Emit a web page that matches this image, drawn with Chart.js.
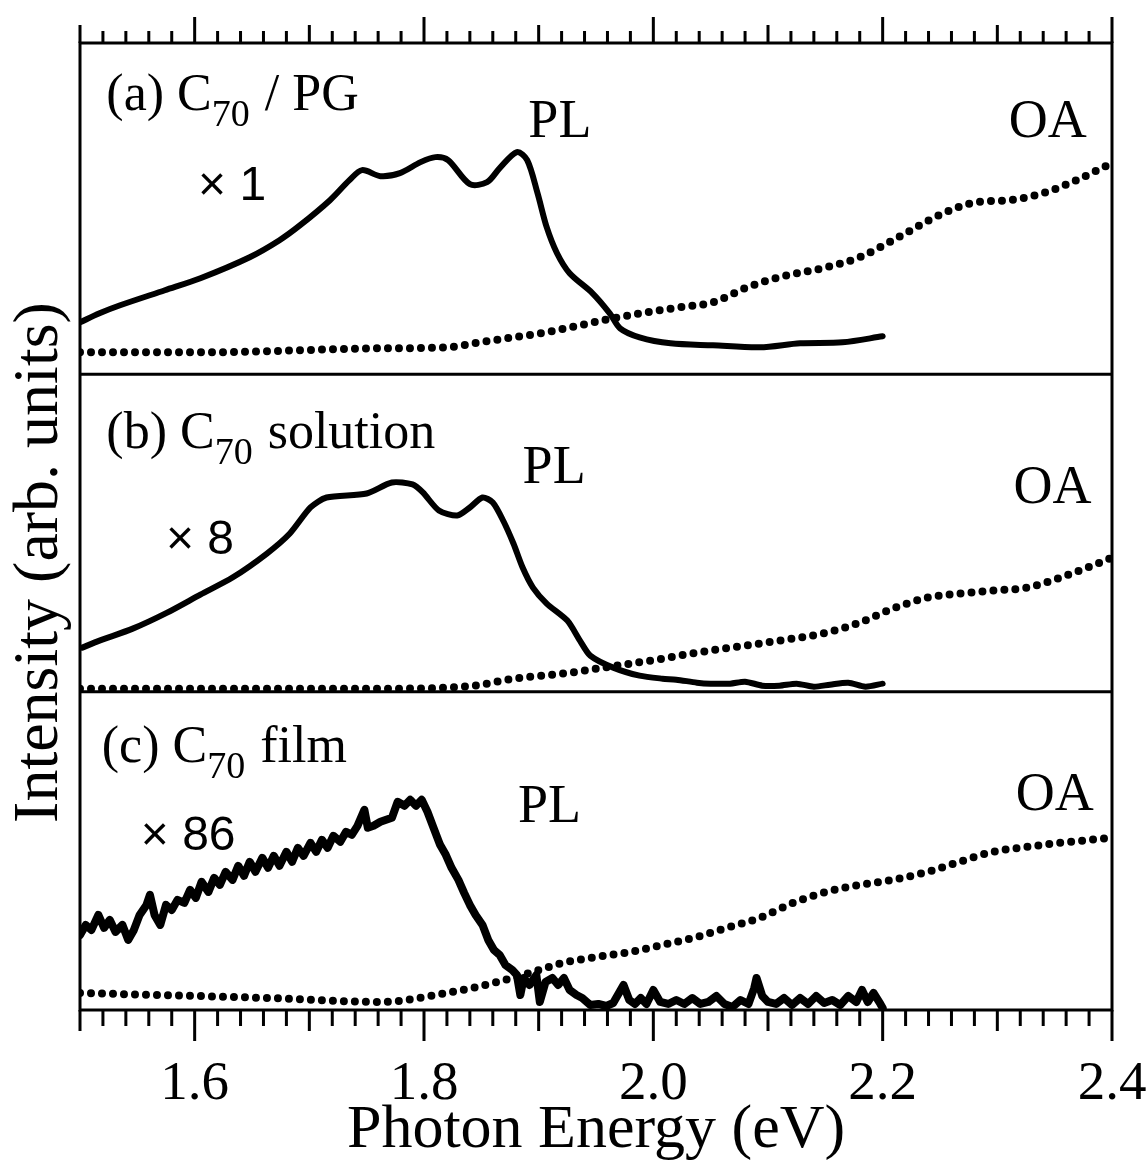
<!DOCTYPE html>
<html>
<head>
<meta charset="utf-8">
<title>C70 PL / OA spectra</title>
<script src="https://cdn.jsdelivr.net/npm/chart.js@4.4.1/dist/chart.umd.min.js"></script>
<style>
  html, body { margin: 0; padding: 0; background: #fff; }
  #chart { display: block; }
</style>
</head>
<body>
<canvas id="chart" width="1147" height="1162"></canvas>
<script>
// photon energy in eV, intensity in arbitrary units (per panel)

// (a) C70 / PG
const plEnergyA = [1.500, 1.517, 1.535, 1.574, 1.605, 1.648, 1.674, 1.692, 1.718, 1.735, 1.746, 1.762, 1.779, 1.797, 1.810, 1.821, 1.840, 1.855, 1.866, 1.881, 1.890, 1.899, 1.907, 1.916, 1.927, 1.947, 1.962, 1.971, 1.988, 2.015, 2.052, 2.093, 2.128, 2.165, 2.200];
const plA = [52, 61, 69, 84, 96, 117, 134, 149, 174, 194, 204, 198, 201, 212, 217, 214, 190, 192, 206, 222, 214, 181, 147, 121, 101, 81, 61, 46, 37, 31, 29, 27, 31, 32, 38];
const oaEnergyA = [1.500, 1.605, 1.762, 1.820, 1.849, 1.878, 1.907, 1.936, 1.965, 1.994, 2.023, 2.052, 2.082, 2.110, 2.151, 2.180, 2.209, 2.253, 2.282, 2.311, 2.340, 2.369, 2.400];
const oaA = [22, 22, 26, 27, 32, 37, 42, 49, 56, 62, 67, 72, 87, 97, 107, 117, 134, 161, 172, 174, 181, 194, 211];

// (b) C70 solution
const plEnergyB = [1.502, 1.517, 1.546, 1.576, 1.605, 1.633, 1.663, 1.683, 1.701, 1.715, 1.750, 1.772, 1.790, 1.799, 1.813, 1.829, 1.840, 1.851, 1.860, 1.869, 1.878, 1.886, 1.895, 1.907, 1.925, 1.936, 1.945, 1.965, 1.988, 2.008, 2.020, 2.038, 2.050, 2.067, 2.080, 2.095, 2.110, 2.125, 2.140, 2.154, 2.170, 2.185, 2.200];
const plB = [44, 51, 63, 79, 97, 114, 138, 158, 184, 194, 198, 209, 207, 199, 181, 176, 184, 194, 189, 171, 148, 124, 104, 88, 71, 51, 36, 24, 16, 13, 12, 9, 8, 8, 10, 6, 6, 8, 5, 7, 9, 5, 8];
const oaEnergyB = [1.500, 1.762, 1.843, 1.878, 1.921, 1.951, 1.980, 2.008, 2.038, 2.067, 2.110, 2.151, 2.180, 2.209, 2.239, 2.267, 2.296, 2.326, 2.355, 2.383, 2.400];
const oaB = [3, 3, 6, 13, 18, 23, 28, 33, 39, 44, 51, 59, 69, 83, 94, 98, 101, 104, 114, 126, 134];

// (c) C70 film
const plEnergyC = [1.500, 1.505, 1.510, 1.516, 1.521, 1.526, 1.531, 1.537, 1.542, 1.547, 1.552, 1.558, 1.561, 1.565, 1.570, 1.575, 1.580, 1.585, 1.591, 1.596,
  1.601, 1.606, 1.612, 1.617, 1.622, 1.627, 1.633, 1.638, 1.643, 1.648, 1.653, 1.659, 1.664, 1.669, 1.674, 1.680, 1.685, 1.690, 1.695, 1.701,
  1.706, 1.711, 1.716, 1.721, 1.727, 1.732, 1.737, 1.742, 1.748, 1.751, 1.756, 1.762, 1.767, 1.772, 1.777, 1.783, 1.788, 1.793, 1.798, 1.803,
  1.809, 1.814, 1.819, 1.824, 1.830, 1.835, 1.840, 1.845, 1.851, 1.856, 1.861, 1.866, 1.871, 1.877, 1.881, 1.884, 1.887, 1.892, 1.898, 1.901,
  1.906, 1.912, 1.917, 1.922, 1.927, 1.933, 1.938, 1.945, 1.952, 1.959, 1.965, 1.969, 1.974, 1.979, 1.984, 1.989, 1.994, 2.000, 2.006, 2.013,
  2.020, 2.027, 2.034, 2.041, 2.048, 2.055, 2.062, 2.069, 2.076, 2.083, 2.088, 2.090, 2.095, 2.100, 2.107, 2.114, 2.121, 2.128, 2.135, 2.142,
  2.149, 2.156, 2.163, 2.170, 2.177, 2.182, 2.187, 2.192, 2.198, 2.200];
const plC = [75, 85, 80, 95, 82, 90, 78, 85, 70, 80, 95, 105, 115, 95, 85, 105, 100, 110, 107, 120,
  112, 128, 118, 132, 125, 138, 130, 144, 134, 148, 138, 152, 142, 154, 144, 158, 148, 162, 154, 167,
  158, 170, 162, 174, 168, 178, 175, 184, 200, 182, 184, 188, 190, 192, 208, 204, 210, 204, 210, 198,
  180, 165, 155, 142, 130, 117, 105, 95, 85, 70, 60, 55, 45, 40, 35, 15, 32, 25, 35, 8,
  28, 32, 25, 32, 20, 15, 12, 5, 6, 4, 7, 15, 25, 10, 6, 12, 6, 20, 8, 6,
  10, 6, 12, 6, 8, 14, 6, 3, 10, 6, 22, 32, 14, 8, 6, 12, 5, 12, 6, 14,
  7, 10, 5, 14, 8, 20, 8, 17, 6, 2];
const oaEnergyC = [1.500, 1.663, 1.762, 1.820, 1.864, 1.892, 1.921, 1.951, 1.980, 2.008, 2.038, 2.067, 2.093, 2.122, 2.151, 2.180, 2.209, 2.239, 2.267, 2.296, 2.326, 2.355, 2.400];
const oaC = [17, 12, 8, 17, 28, 37, 47, 53, 58, 65, 73, 83, 92, 107, 118, 125, 130, 138, 148, 158, 163, 167, 172];

// axis
const xTickLabels = [1.6, 1.8, 2.0, 2.2, 2.4];
const minorStep = 0.02;
const panelMax = [331, 317, 318];

// panel texts
const panelNames = [['(a) C', '70', ' / PG'], ['(b) C', '70', ' solution'], ['(c) C', '70', ' film']];
const gainLabels = ['\u00d7 1', '\u00d7 8', '\u00d7 86'];
const panelIds = ['ya', 'yb', 'yc'];

// label anchors in data coords [energy, intensity]
const namePos = [[1.523, 264], [1.523, 243], [1.519, 248]];
const gainPos = [[1.603, 174], [1.575, 138], [1.553, 160]];
const plPos = [[1.891, 237], [1.886, 208], [1.882, 188]];
const oaPos = [[2.310, 237], [2.314, 188], [2.316, 200]];

const SERIF = 'Liberation Serif';
const SANS = 'Liberation Sans';

const toPoints = (xs, ys) => xs.map((x, i) => ({ x: x, y: ys[i] }));

function plLine(xs, ys, axis, width, tension) {
  return {
    data: toPoints(xs, ys), yAxisID: axis,
    borderColor: '#000', borderWidth: width, pointRadius: 0,
    tension: tension, borderJoinStyle: 'round', borderCapStyle: 'round'
  };
}
function oaLine(xs, ys, axis) {
  return {
    data: toPoints(xs, ys), yAxisID: axis,
    borderColor: '#000', borderWidth: 8, pointRadius: 0,
    cubicInterpolationMode: 'monotone',
    borderDash: [0, 11], borderCapStyle: 'round'
  };
}

function panelAxis(max) {
  return {
    type: 'linear', position: 'left', stack: 'panels', stackWeight: max,
    min: 0, max: max,
    ticks: { display: false },
    grid: { display: false, drawTicks: false },
    border: { display: false },
    afterFit: (s) => { s.width = 80; }
  };
}

function drawParts(ctx, parts, x, y) {
  let cx = x;
  parts.forEach((t, i) => {
    const sub = i === 1;
    ctx.font = (sub ? '38px ' : '52px ') + '"' + SERIF + '"';
    ctx.fillText(t, cx, sub ? y + 16 : y);
    cx += ctx.measureText(t).width + (sub ? 2 : 0);
  });
}

const framePlugin = {
  id: 'frame',
  afterDatasetsDraw(chart) {
    const { ctx, chartArea: a, scales } = chart;
    const x = scales.x;
    ctx.save();
    ctx.strokeStyle = '#000';
    ctx.lineWidth = 3;
    ctx.strokeRect(a.left, a.top, a.right - a.left, a.bottom - a.top);
    ctx.beginPath();
    ['ya', 'yb'].forEach(id => {
      const b = scales[id].bottom;
      ctx.moveTo(a.left, b);
      ctx.lineTo(a.right, b);
    });
    ctx.stroke();

    // ticks every 0.02 eV, outward on top and bottom
    ctx.lineWidth = 3;
    ctx.beginPath();
    const n = Math.round((x.max - x.min) / minorStep);
    for (let i = 0; i <= n; i++) {
      const px = x.getPixelForValue(x.min + i * minorStep);
      const major = i % 10 === 5, mid = i % 5 === 0;
      ctx.moveTo(px, a.top);
      ctx.lineTo(px, a.top - (major ? 26 : mid ? 18 : 12));
      ctx.moveTo(px, a.bottom);
      ctx.lineTo(px, a.bottom + (major ? 31 : mid ? 21 : 16));
    }
    ctx.stroke();

    // texts
    ctx.fillStyle = '#000';
    ctx.textBaseline = 'alphabetic';
    ctx.textAlign = 'left';
    panelIds.forEach((id, k) => {
      const y = scales[id];
      drawParts(ctx, panelNames[k], x.getPixelForValue(namePos[k][0]), y.getPixelForValue(namePos[k][1]));
      ctx.font = '48px "' + SANS + '"';
      ctx.fillText(gainLabels[k], x.getPixelForValue(gainPos[k][0]), y.getPixelForValue(gainPos[k][1]));
      ctx.font = '54px "' + SERIF + '"';
      ctx.fillText('PL', x.getPixelForValue(plPos[k][0]), y.getPixelForValue(plPos[k][1]));
      ctx.fillText('OA', x.getPixelForValue(oaPos[k][0]), y.getPixelForValue(oaPos[k][1]));
    });

    // shared y title
    ctx.translate(a.left - 40, (a.top + a.bottom) / 2 + 36);
    ctx.rotate(-Math.PI / 2);
    ctx.textAlign = 'center';
    ctx.textBaseline = 'middle';
    ctx.font = '64px "' + SERIF + '"';
    ctx.fillText('Intensity (arb. units)', 0, 0);
    ctx.restore();
  }
};

new Chart(document.getElementById('chart'), {
  type: 'line',
  data: {
    datasets: [
      plLine(plEnergyA, plA, 'ya', 6, 0.3),
      oaLine(oaEnergyA, oaA, 'ya'),
      plLine(plEnergyB, plB, 'yb', 6, 0.25),
      oaLine(oaEnergyB, oaB, 'yb'),
      plLine(plEnergyC, plC, 'yc', 8, 0),
      oaLine(oaEnergyC, oaC, 'yc')
    ]
  },
  options: {
    responsive: false,
    animation: false,
    layout: { padding: { top: 43, right: 35, left: 0, bottom: 0 } },
    plugins: { legend: { display: false }, tooltip: { enabled: false } },
    scales: {
      x: {
        type: 'linear', position: 'bottom', min: 1.5, max: 2.4,
        grid: { display: false, drawTicks: false },
        border: { display: false },
        afterBuildTicks: (s) => { s.ticks = xTickLabels.map(v => ({ value: v })); },
        ticks: {
          color: '#000', padding: 42, maxRotation: 0, autoSkip: false,
          font: { family: SERIF, size: 55 },
          callback: (v) => Number(v).toFixed(1)
        },
        title: {
          display: true, text: 'Photon Energy (eV)', color: '#000',
          font: { family: SERIF, size: 62, lineHeight: 1 },
          padding: { top: 0, bottom: 0 }
        },
        afterFit: (s) => { s.height = 152; s.paddingLeft = 0; s.paddingRight = 0; }
      },
      yc: panelAxis(panelMax[2]),
      yb: panelAxis(panelMax[1]),
      ya: panelAxis(panelMax[0])
    }
  },
  plugins: [framePlugin]
});
</script>
</body>
</html>
